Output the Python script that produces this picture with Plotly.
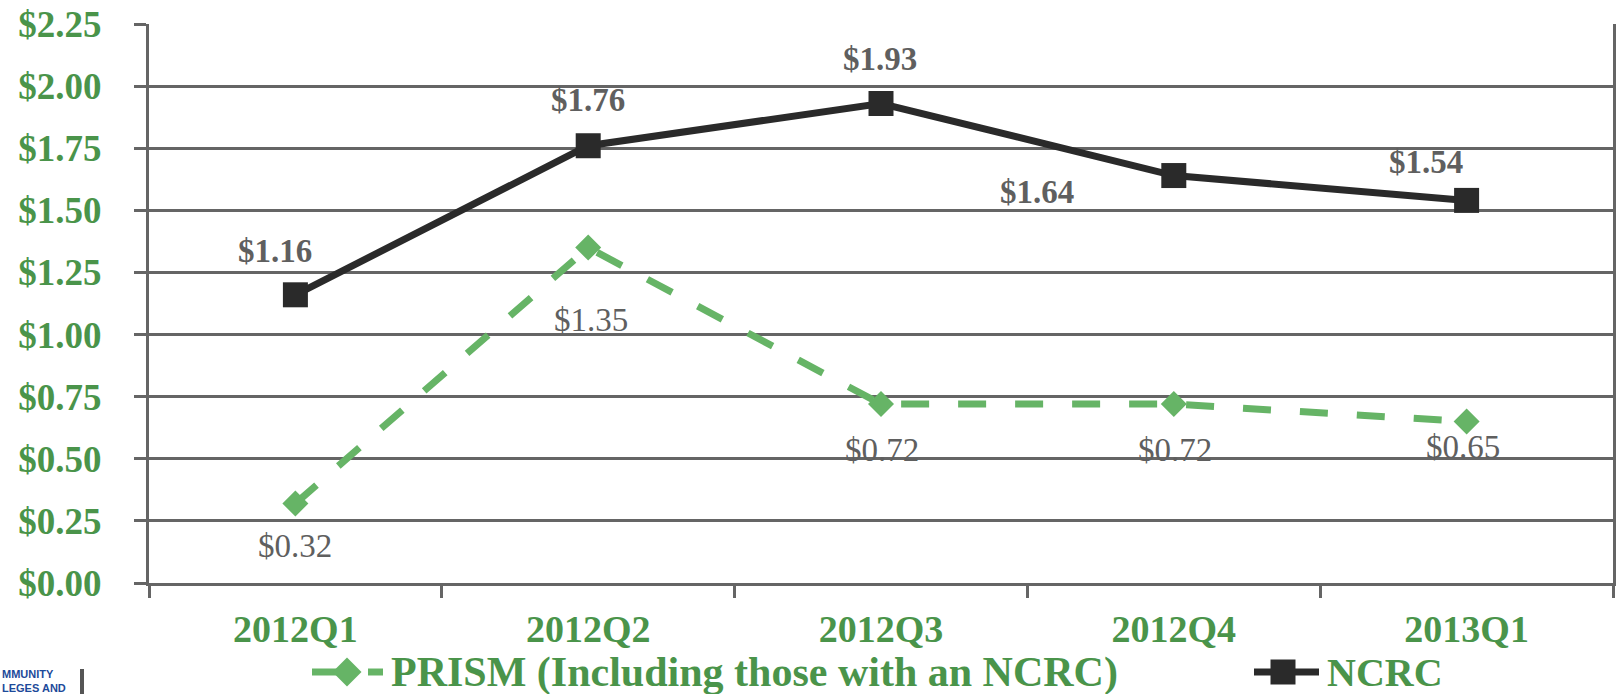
import plotly.graph_objects as go

# ---- data -------------------------------------------------------------
quarters = ["2012Q1", "2012Q2", "2012Q3", "2012Q4", "2013Q1"]
ncrc = [1.16, 1.76, 1.93, 1.64, 1.54]
prism = [0.32, 1.35, 0.72, 0.72, 0.65]
y_ticks = [0.0, 0.25, 0.5, 0.75, 1.0, 1.25, 1.5, 1.75, 2.0, 2.25]

# ---- styling ----------------------------------------------------------
W, H = 1619, 694
L, R, T, B = 149, 6, 24, 111
SERIF = "Liberation Serif"
GREEN_TXT = "#4a944a"
GREEN_LINE = "#66b466"
DARK = "#2a2a2a"
GRID = "#656565"
LABEL_GRAY = "#5f5f5f"

# label offsets (pixels, x right / y up) relative to each point
ncrc_off = [(-20, 44), (0, 46), (-1, 45), (-137, -16), (-41, 38)]
prism_off = [(0, -42), (3, -72), (1, -46), (1, -46), (-4, -25)]

fig = go.Figure()

fig.add_trace(go.Scatter(
    x=quarters, y=prism, mode="lines+markers", name="PRISM (Including those with an NCRC)",
    line=dict(color=GREEN_LINE, width=7, dash="28px,29px"),
    marker=dict(symbol="diamond", size=20, color=GREEN_LINE),
    showlegend=False,
))
fig.add_trace(go.Scatter(
    x=quarters, y=ncrc, mode="lines+markers", name="NCRC",
    line=dict(color=DARK, width=7),
    marker=dict(symbol="square", size=25, color=DARK),
    showlegend=False,
))

annotations = []
for q, v, (dx, dy) in zip(quarters, ncrc, ncrc_off):
    annotations.append(dict(
        x=q, y=v, xref="x", yref="y", text=f"<b>${v:.2f}</b>", showarrow=False,
        xshift=dx, yshift=dy, font=dict(family=SERIF, size=33, color=LABEL_GRAY),
    ))
for q, v, (dx, dy) in zip(quarters, prism, prism_off):
    annotations.append(dict(
        x=q, y=v, xref="x", yref="y", text=f"${v:.2f}", showarrow=False,
        xshift=dx, yshift=dy, font=dict(family=SERIF, size=33, color=LABEL_GRAY),
    ))


def px(x):
    return (x - L) / (W - L - R)


def py(y):
    return (H - B - y) / (H - T - B)


# ---- legend (drawn by hand so the key lines are long) ----------------
shapes = []
ly = 672
shapes.append(dict(type="line", xref="paper", yref="paper",
                   x0=px(312), x1=px(347), y0=py(ly), y1=py(ly),
                   line=dict(color=GREEN_LINE, width=7)))
shapes.append(dict(type="line", xref="paper", yref="paper",
                   x0=px(368), x1=px(383), y0=py(ly), y1=py(ly),
                   line=dict(color=GREEN_LINE, width=7)))
d = 14.5
shapes.append(dict(type="path", xref="paper", yref="paper",
                   path=(f"M {px(347 - d)} {py(ly)} L {px(347)} {py(ly - d)} "
                         f"L {px(347 + d)} {py(ly)} L {px(347)} {py(ly + d)} Z"),
                   fillcolor=GREEN_LINE, line=dict(width=0)))
shapes.append(dict(type="line", xref="paper", yref="paper",
                   x0=px(1254), x1=px(1319), y0=py(ly), y1=py(ly),
                   line=dict(color=DARK, width=7)))
s = 12.5
shapes.append(dict(type="rect", xref="paper", yref="paper",
                   x0=px(1283 - s), x1=px(1283 + s), y0=py(ly - s), y1=py(ly + s),
                   fillcolor=DARK, line=dict(width=0)))

annotations.append(dict(
    x=px(389), y=py(672), xref="paper", yref="paper", xanchor="left", yanchor="middle",
    text="<b>PRISM (Including those with an NCRC)</b>", showarrow=False,
    font=dict(family=SERIF, size=42, color=GREEN_TXT),
))
annotations.append(dict(
    x=px(1325), y=py(672), xref="paper", yref="paper", xanchor="left", yanchor="middle",
    text="<b>NCRC</b>", showarrow=False,
    font=dict(family=SERIF, size=40, color=GREEN_TXT),
))

# partial logo in the lower-left corner
annotations.append(dict(
    x=px(0), y=py(666), xref="paper", yref="paper", xanchor="left", yanchor="top",
    text="<b>MMUNITY<br>LEGES AND</b>", showarrow=False, align="left",
    font=dict(family="Liberation Sans", size=11, color="#1d4a9a"),
))
shapes.append(dict(type="rect", xref="paper", yref="paper",
                   x0=px(80), x1=px(84), y0=py(694), y1=py(669),
                   fillcolor="#555555", line=dict(width=0)))

fig.update_layout(
    width=W, height=H,
    margin=dict(l=L, r=R, t=T, b=B, autoexpand=False),
    paper_bgcolor="white", plot_bgcolor="white",
    annotations=annotations, shapes=shapes,
    showlegend=False,
)

fig.update_xaxes(
    type="category", range=[-0.5, 4.5], tickson="boundaries",
    showgrid=False, showline=True, linecolor=GRID, linewidth=3,
    ticks="outside", ticklen=12, tickwidth=3, tickcolor=GRID,
    tickfont=dict(family=SERIF, size=38, color=GREEN_TXT, weight="bold"),
    ticklabelstandoff=10,
)
fig.update_yaxes(
    range=[0, 2.25], tickvals=y_ticks, tickformat="$.2f",
    showgrid=True, gridcolor=GRID, gridwidth=3, zeroline=False,
    showline=True, linecolor=GRID, linewidth=3, mirror=True,
    ticks="outside", ticklen=12, tickwidth=3, tickcolor=GRID,
    tickfont=dict(family=SERIF, size=37, color=GREEN_TXT, weight="bold"),
    ticklabelstandoff=25,
)

fig.write_html("out.html")
